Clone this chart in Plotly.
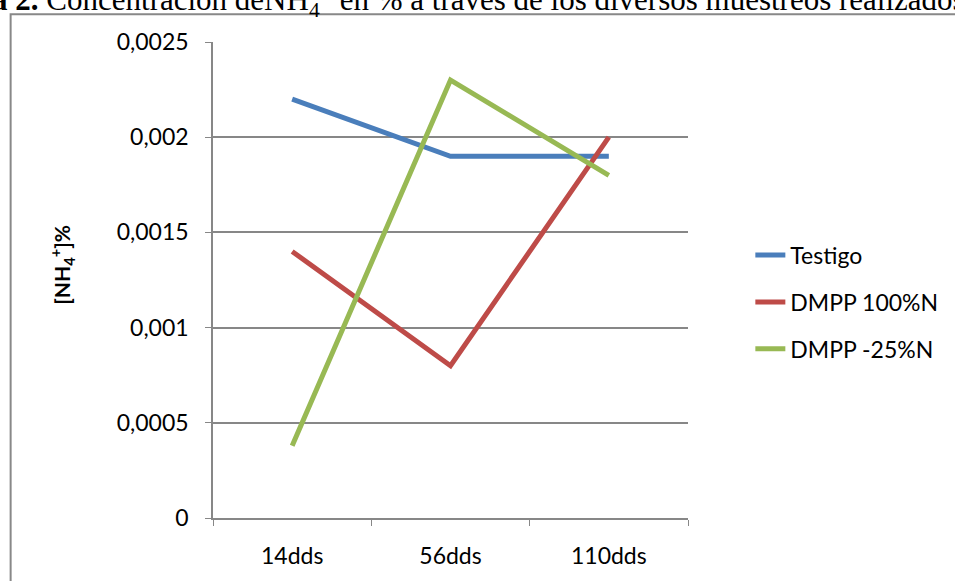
import plotly.graph_objects as go

categories = ["14dds", "56dds", "110dds"]
testigo = [0.0022, 0.0019, 0.0019]
dmpp_100 = [0.0014, 0.0008, 0.0020]
dmpp_25 = [0.00038, 0.0023, 0.0018]
series_names = ["Testigo", "DMPP 100%N", "DMPP -25%N"]
y_tickvals = [0, 0.0005, 0.001, 0.0015, 0.002, 0.0025]
y_ticktext = ["0", "0,0005", "0,001", "0,0015", "0,002", "0,0025"]

colors = ["#4A7EBB", "#BE4B48", "#98B954"]
W, H = 955, 581
L, R, T, B = 213, 262, 42, 57
pw, ph = W - L - R, H - T - B

def px_x(x):
    return (x - L) / pw

def px_y(y):
    return (H - B - y) / ph

fig = go.Figure()
for name, vals, c in zip(series_names, [testigo, dmpp_100, dmpp_25], colors):
    fig.add_trace(go.Scatter(x=categories, y=vals, name=name, mode="lines",
                             line=dict(color=c, width=5), legendgroup=name))

grid = "#878787"
fig.update_layout(
    width=W, height=H,
    margin=dict(l=L, r=R, t=T, b=B),
    paper_bgcolor="white", plot_bgcolor="white",
    font=dict(family="Lato, Carlito, sans-serif", size=23, color="black"),
    separators=",.",
    showlegend=True,
    legend=dict(x=px_x(756), y=px_y(236), xanchor="left", yanchor="top",
                tracegroupgap=14, font=dict(size=23), bgcolor="rgba(0,0,0,0)"),
    xaxis=dict(type="category", showgrid=False, showline=True, linecolor=grid,
               linewidth=1.5, ticks="outside", tickson="boundaries", ticklen=6,
               tickcolor=grid, range=[-0.5, 2.5], ticklabelstandoff=17),
    yaxis=dict(range=[0, 0.0025], tickvals=y_tickvals, ticktext=y_ticktext,
               showgrid=True, gridcolor=grid, gridwidth=1.5, showline=True,
               linecolor=grid, linewidth=1.5, ticks="outside", ticklen=6,
               tickcolor=grid, zeroline=False, ticklabelstandoff=12),
)

fig.add_annotation(text="<b>[NH<sub>4</sub><sup>+</sup>]%</b>", xref="paper", yref="paper",
                   x=px_x(60), y=px_y(268), textangle=-90, showarrow=False,
                   font=dict(size=21), xanchor="center", yanchor="middle")

fig.add_annotation(text="<b>Gráfica 2.</b> Concentración deNH<sub>4</sub><sup>+</sup> en % a través de los diversos muestreos realizados",
                   xref="paper", yref="paper", x=px_x(-99), y=px_y(-1),
                   xanchor="left", yanchor="middle", showarrow=False,
                   font=dict(family="Liberation Serif, serif", size=31, color="black"))

fig.add_shape(type="rect", xref="paper", yref="paper",
              x0=px_x(8.5), x1=px_x(1200), y0=px_y(14), y1=px_y(700),
              line=dict(color="#888888", width=2), fillcolor="rgba(0,0,0,0)", layer="below")

fig.write_html("out.html", config={"displayModeBar": False},
               post_script="document.body.style.margin='0';document.body.style.overflow='hidden';")
